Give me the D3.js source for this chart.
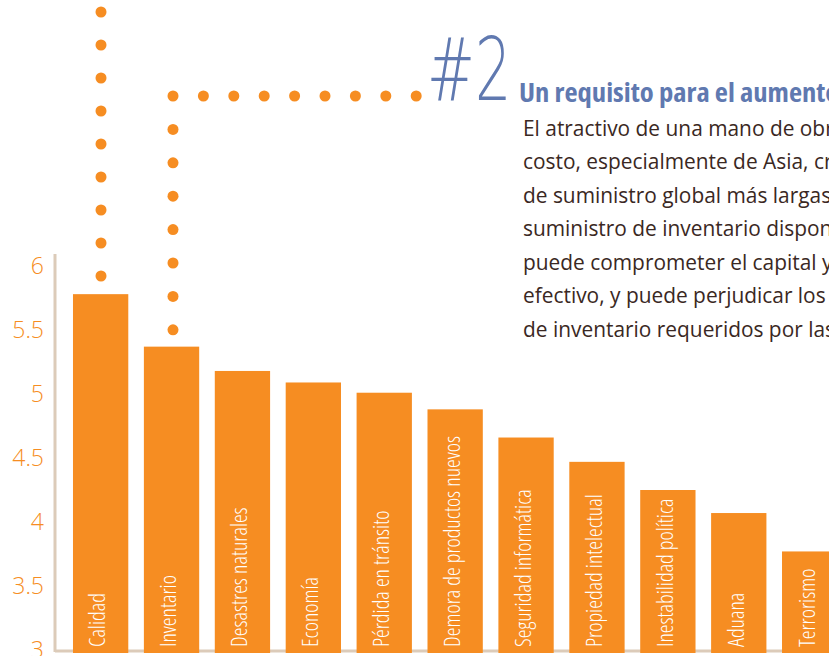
<!DOCTYPE html>
<html>
<head>
<meta charset="utf-8">
<title></title>
<script src="https://d3js.org/d3.v7.min.js"></script>
<style>
  body { margin: 0; background: #fff; overflow: hidden; }
  svg { display: block; }
  .tick text { font-family: 'Open Sans', 'DejaVu Sans Condensed', sans-serif; font-weight: 300; font-stretch: 90%; }
</style>
</head>
<body>
<script>
// values
var categories = ["Calidad", "Inventario", "Desastres naturales", "Economía", "Pérdida en tránsito",
  "Demora de productos nuevos", "Seguridad informática", "Propiedad intelectual",
  "Inestabilidad política", "Aduana", "Terrorismo"];
var values = [5.78, 5.37, 5.18, 5.09, 5.01, 4.88, 4.66, 4.47, 4.25, 4.07, 3.77];
var yTicks = [3, 3.5, 4, 4.5, 5, 5.5, 6];

var heading = "Un requisito para el aumento";
var bodyLines = [
  "El atractivo de una mano de obra",
  "costo, especialmente de Asia, crea",
  "de suministro global más largas",
  "suministro de inventario disponible",
  "puede comprometer el capital y",
  "efectivo, y puede perjudicar los",
  "de inventario requeridos por las"
];

var W = 829, H = 656;
var orange = "#f68d22";
var blue = "#6079b0";

var svg = d3.select("body").append("svg")
  .attr("width", W)
  .attr("height", H);

var y = d3.scaleLinear().domain([3, 6]).range([650, 266]);
var x = d3.scaleBand().domain(categories)
  .range([58.8, 851.5])
  .paddingInner(0.22)
  .paddingOuter(0.2);

// dotted decoration
var dots = [];
d3.range(9).forEach(function(i){ dots.push([101, 12 + i * 33]); });
d3.range(9).forEach(function(i){ dots.push([173 + i * 30.4, 96]); });
d3.range(1, 8).forEach(function(i){ dots.push([173, 96 + i * 33.4]); });

svg.selectAll("circle.dot")
  .data(dots)
  .enter().append("circle")
  .attr("class", "dot")
  .attr("cx", function(d){ return d[0]; })
  .attr("cy", function(d){ return d[1]; })
  .attr("r", 5.5)
  .attr("fill", orange);

// axis lines
svg.append("line")
  .attr("x1", 55).attr("x2", W)
  .attr("y1", 651).attr("y2", 651)
  .attr("stroke", "#dccbb9").attr("stroke-width", 3);
svg.append("line")
  .attr("x1", 55).attr("x2", 55)
  .attr("y1", y(6) - 12).attr("y2", 652)
  .attr("stroke", "#dccbb9").attr("stroke-width", 3);

var yAxis = svg.append("g")
  .attr("transform", "translate(44,0)")
  .call(d3.axisLeft(y).tickValues(yTicks).tickSize(0).tickPadding(0).tickFormat(function(d){ return String(d); }));
yAxis.select(".domain").remove();
yAxis.selectAll(".tick text")
  .attr("fill", orange)
  .attr("font-size", 23);

// bars
svg.selectAll("rect.bar")
  .data(categories)
  .enter().append("rect")
  .attr("class", "bar")
  .attr("x", function(d){ return x(d); })
  .attr("y", function(d, i){ return y(values[i]); })
  .attr("width", x.bandwidth())
  .attr("height", function(d, i){ return y(3) - y(values[i]) + 3; })
  .attr("fill", orange);

svg.selectAll("text.lab")
  .data(categories)
  .enter().append("text")
  .attr("class", "lab")
  .attr("transform", function(d){ return "translate(" + (x(d) + 32.5) + ",647) rotate(-90)"; })
  .attr("fill", "#fff")
  .attr("font-family", "'Open Sans', 'DejaVu Sans Condensed', sans-serif")
  .attr("font-weight", 300)
  .attr("font-stretch", "75%")
  .attr("font-size", 22)
  .text(function(d){ return d; });

// heading block
svg.append("text")
  .attr("x", 427)
  .attr("y", 100)
  .attr("fill", blue)
  .attr("font-family", "'DejaVu Sans', sans-serif")
  .attr("font-weight", 200)
  .attr("font-size", 88)
  .attr("transform", "translate(427,0) scale(0.65,1) translate(-427,0)")
  .text("#2");

svg.append("text")
  .attr("x", 519)
  .attr("y", 102)
  .attr("fill", blue)
  .attr("font-family", "'Open Sans', 'DejaVu Sans Condensed', sans-serif")
  .attr("font-weight", 700)
  .attr("font-stretch", "87.5%")
  .attr("font-size", 26)
  .attr("transform", "translate(519,0) scale(1.1,1) translate(-519,0)")
  .text(heading);

svg.selectAll("text.body")
  .data(bodyLines)
  .enter().append("text")
  .attr("class", "body")
  .attr("x", 523)
  .attr("y", function(d, i){ return 136 + i * 33.5; })
  .attr("fill", "#3a2823")
  .attr("font-family", "'Open Sans', 'DejaVu Sans Condensed', sans-serif")
  .attr("font-stretch", "90%")
  .attr("font-size", 22)
  .attr("transform", "translate(523,0) scale(0.95,1) translate(-523,0)")
  .text(function(d){ return d; });
</script>
</body>
</html>
